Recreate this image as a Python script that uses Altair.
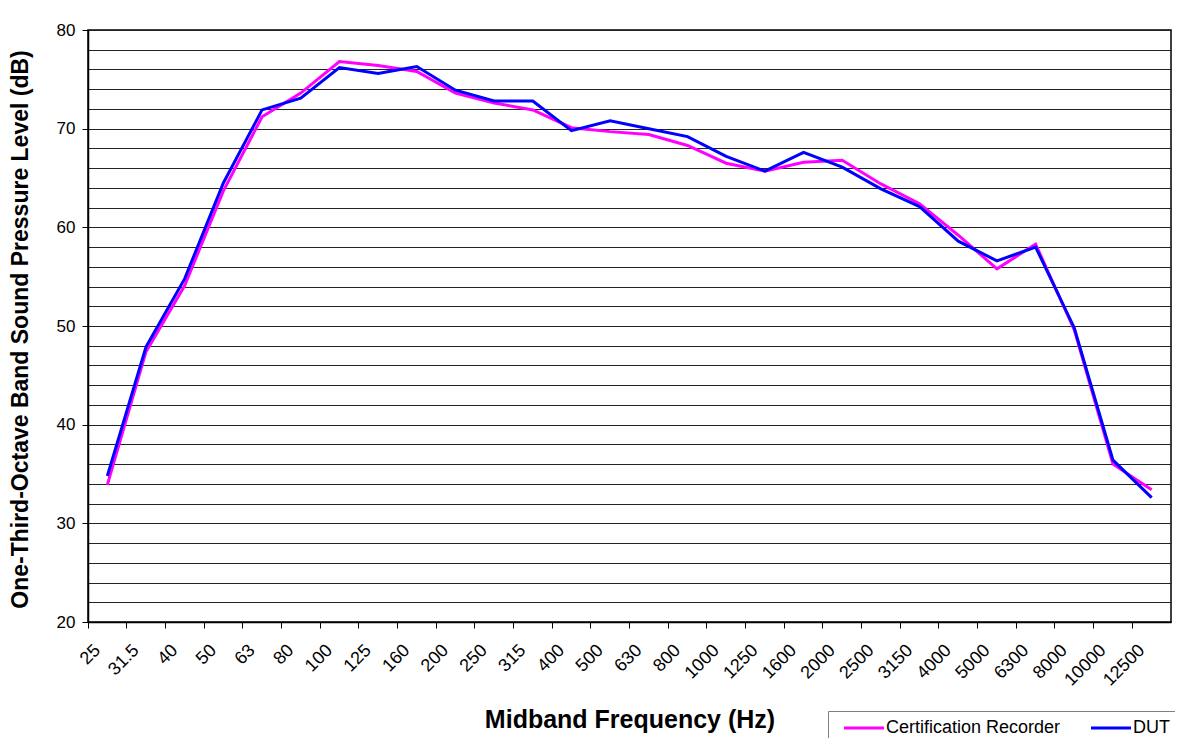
import altair as alt
import pandas as pd

freqs = ["25", "31.5", "40", "50", "63", "80", "100", "125", "160", "200",
         "250", "315", "400", "500", "630", "800", "1000", "1250", "1600",
         "2000", "2500", "3150", "4000", "5000", "6300", "8000", "10000", "12500"]
cert = [33.9, 47.4, 54.1, 63.7, 71.2, 73.6, 76.8, 76.4, 75.8, 73.6,
        72.6, 71.9, 70.1, 69.7, 69.4, 68.3, 66.5, 65.7, 66.6, 66.8,
        64.4, 62.4, 59.2, 55.8, 58.3, 49.6, 36.0, 33.4]
dut = [34.8, 47.9, 54.8, 64.5, 71.9, 73.1, 76.2, 75.6, 76.3, 73.9,
       72.8, 72.8, 69.8, 70.8, 70.0, 69.2, 67.2, 65.7, 67.6, 66.1,
       63.9, 62.1, 58.6, 56.6, 58.0, 49.8, 36.4, 32.6]
series_names = ["Certification Recorder", "DUT"]
series_colors = ["#FF00FF", "#0000FF"]

rows = []
for name, vals in zip(series_names, [cert, dut]):
    for f, v in zip(freqs, vals):
        rows.append({"freq": f, "level": v, "series": name})
df = pd.DataFrame(rows)

FONT = "Liberation Sans"

chart = alt.Chart(df).mark_line(strokeWidth=3).encode(
    x=alt.X(
        "freq:N", sort=freqs, bandPosition=0.5,
        scale=alt.Scale(type="band", paddingInner=0, paddingOuter=0),
        axis=alt.Axis(
            title="Midband Frequency (Hz)", bandPosition=0, grid=False,
            labelAngle=315, labelFontSize=18, labelPadding=13, labelOffset=-16,
            tickSize=6, tickColor="black", domainColor="black", domainWidth=1.5,
            labelColor="black", titleFontSize=25, titleFontWeight="bold",
            titleColor="black", titleY=97, titleBaseline="middle",
        ),
    ),
    y=alt.Y(
        "level:Q",
        scale=alt.Scale(domain=[20, 80], nice=False, zero=False),
        axis=alt.Axis(
            title="One-Third-Octave Band Sound Pressure Level (dB)",
            values=list(range(20, 81, 2)),
            labelExpr="datum.value % 10 == 0 ? datum.label : ''",
            tickOpacity=alt.expr("datum.value % 10 == 0 ? 1 : 0"),
            grid=True, gridColor="#222222", gridWidth=1,
            tickSize=6, tickColor="black", domainColor="black", domainWidth=1.5,
            labelFontSize=17, labelPadding=7, labelColor="black",
            titleFontSize=23, titleFontWeight="bold", titleColor="black",
            titleAngle=270, titleX=-68, titleY=299, titleBaseline="middle",
            titleAlign="center",
        ),
    ),
    color=alt.Color(
        "series:N",
        scale=alt.Scale(domain=series_names, range=series_colors),
        legend=alt.Legend(
            title=None, orient="none", legendX=740, legendY=681,
            direction="horizontal", symbolType="M-3,0H3", symbolSize=178,
            symbolStrokeWidth=3, labelFontSize=18, labelColor="black",
            labelLimit=400,
            padding=8, strokeColor="#808080", fillColor="white",
            columnPadding=22, symbolOffset=19, labelOffset=13,
        ),
    ),
).properties(
    width=1083, height=592,
    autosize=alt.AutoSizeParams(type="none"),
    padding={"left": 80, "top": 22, "right": 4, "bottom": 116},
).configure(
    font=FONT,
).configure_view(
    stroke="black", strokeWidth=1.5,
)

chart.save("out.html", embed_options={"renderer": "svg", "actions": False})
